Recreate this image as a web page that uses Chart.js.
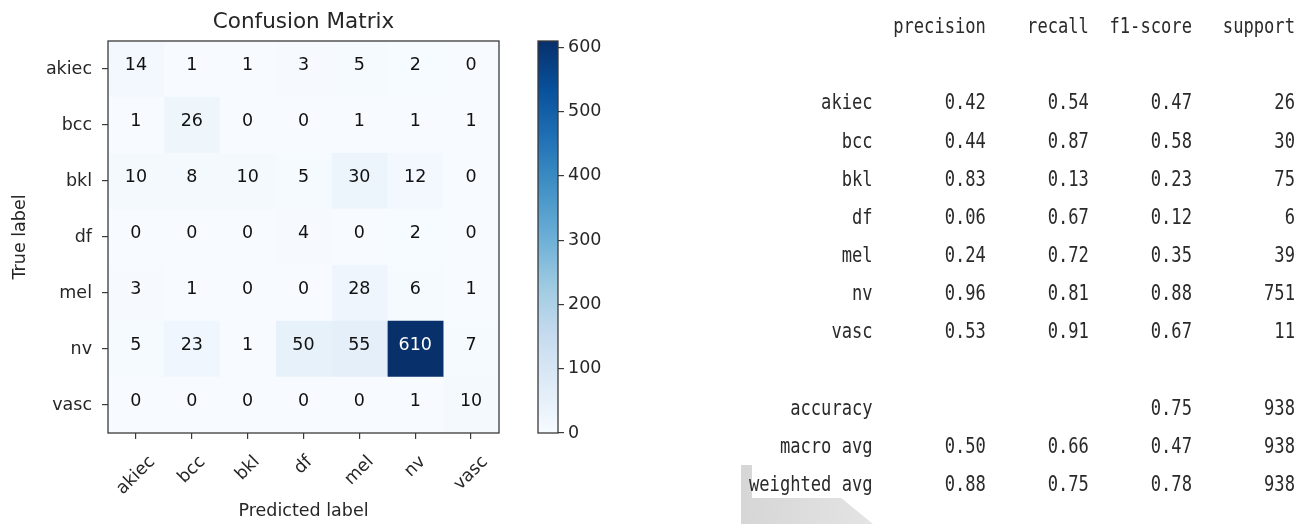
<!DOCTYPE html>
<html>
<head>
<meta charset="utf-8">
<script src="https://cdn.jsdelivr.net/npm/chart.js@4.4.0/dist/chart.umd.min.js"></script>
<style>
  html, body { margin: 0; padding: 0; background: #ffffff; }
  body { width: 1305px; height: 524px; position: relative; overflow: hidden; }
  canvas { position: absolute; top: 0; }
  #cm { left: 0; }
  #cb { left: 520px; }
  .soft { filter: blur(0.4px); }
  #mark { position: absolute; left: 741px; top: 465px; width: 132px; height: 59px;
          background: linear-gradient(90deg, #d6d6d6, #e4e4e4);
          clip-path: polygon(0 0, 60px 0, 132px 59px, 0 59px); }
  #markGap { position: absolute; left: 752px; top: 463px; width: 124px; height: 35px; background: #ffffff; }
  .line { position: absolute; left: 749.4px; white-space: pre; font-family: 'DejaVu Sans Mono', monospace;
          font-size: 20.5px; line-height: 24px; color: #2a2a2a; transform: scaleX(0.8346); transform-origin: 0 0; }
</style>
</head>
<body>
<canvas id="cm" class="soft" width="530" height="524"></canvas>
<canvas id="cb" class="soft" width="120" height="524"></canvas>
<div id="mark"></div>
<div id="markGap"></div>
<div id="report" class="soft"></div>
<script>
// Class names on both axes of the confusion matrix
const predLabels = ['akiec', 'bcc', 'bkl', 'df', 'mel', 'nv', 'vasc'];
const trueLabels = ['akiec', 'bcc', 'bkl', 'df', 'mel', 'nv', 'vasc'];

// Confusion matrix rows (true label), columns follow predLabels
const cmAkiec = [14, 1, 1, 3, 5, 2, 0];
const cmBcc   = [1, 26, 0, 0, 1, 1, 1];
const cmBkl   = [10, 8, 10, 5, 30, 12, 0];
const cmDf    = [0, 0, 0, 4, 0, 2, 0];
const cmMel   = [3, 1, 0, 0, 28, 6, 1];
const cmNv    = [5, 23, 1, 50, 55, 610, 7];
const cmVasc  = [0, 0, 0, 0, 0, 1, 10];
const confusion = [cmAkiec, cmBcc, cmBkl, cmDf, cmMel, cmNv, cmVasc];

// Colour bar tick labels
const colorbarTicks = [0, 100, 200, 300, 400, 500, 600];

// Classification report
const reportHeaders = ['precision', 'recall', 'f1-score', 'support'];
const reportClasses = ['akiec', 'bcc', 'bkl', 'df', 'mel', 'nv', 'vasc'];
const precision = [0.42, 0.44, 0.83, 0.06, 0.24, 0.96, 0.53];
const recall    = [0.54, 0.87, 0.13, 0.67, 0.72, 0.81, 0.91];
const f1Score   = [0.47, 0.58, 0.23, 0.12, 0.35, 0.88, 0.67];
const support   = [26, 30, 75, 6, 39, 751, 11];
const accuracy = 0.75;
const totalSupport = 938;
const macroAvg    = [0.50, 0.66, 0.47];
const weightedAvg = [0.88, 0.75, 0.78];

// ---- colour map (matplotlib "Blues") ----
const bluesStops = ['#f7fbff', '#deebf7', '#c6dbef', '#9ecae1', '#6baed6', '#4292c6', '#2171b5', '#08519c', '#08306b'];
function hexRgb(h) { return [1, 3, 5].map(k => parseInt(h.substr(k, 2), 16)); }
function blues(t) {
  t = Math.max(0, Math.min(1, t));
  const n = bluesStops.length;
  const pos = t * (n - 1);
  const k = Math.min(Math.floor(pos), n - 2);
  const f = pos - k;
  const a = hexRgb(bluesStops[k]), b = hexRgb(bluesStops[k + 1]);
  const c = a.map((v, i) => Math.round(v + (b[i] - v) * f));
  return `rgb(${c[0]},${c[1]},${c[2]})`;
}

const vmin = 0;
const vmax = Math.max(...confusion.flat());
const FONT = 'DejaVu Sans';
const INK = '#262626';
const SPINE = '#3a3a3a';
const tickFont = { family: FONT, size: 17.5 };

// cell annotations
const cellValues = {
  id: 'cellValues',
  afterDatasetsDraw(chart) {
    const { ctx, scales: { x, y } } = chart;
    ctx.save();
    ctx.font = `17.5px '${FONT}'`;
    ctx.textAlign = 'center';
    ctx.textBaseline = 'middle';
    confusion.forEach((row, i) => {
      row.forEach((v, j) => {
        ctx.fillStyle = v > vmax / 2 ? '#ffffff' : '#111111';
        ctx.fillText(String(v), x.getPixelForValue(j), y.getPixelForValue(i) - 3.5);
      });
    });
    ctx.restore();
  }
};

// four-sided frame around the plotting area
const frame = {
  id: 'frame',
  afterDraw(chart) {
    const { ctx, chartArea: a } = chart;
    ctx.save();
    ctx.strokeStyle = SPINE;
    ctx.lineWidth = 1.3;
    ctx.strokeRect(a.left, a.top, a.right - a.left, a.bottom - a.top);
    ctx.restore();
  }
};

// rotated predicted-class labels, centred under their tick
const xLabels = {
  id: 'xLabels',
  afterDraw(chart) {
    const { ctx, scales: { x }, chartArea } = chart;
    const size = 17.5;
    ctx.save();
    ctx.font = `${size}px '${FONT}'`;
    ctx.fillStyle = INK;
    ctx.textAlign = 'center';
    ctx.textBaseline = 'middle';
    const top = chartArea.bottom + 20;
    predLabels.forEach((lab, j) => {
      const w = ctx.measureText(lab).width;
      const half = (w + size) * Math.SQRT1_2 / 2;
      ctx.save();
      ctx.translate(x.getPixelForValue(j), top + half);
      ctx.rotate(-Math.PI / 4);
      ctx.fillText(lab, 0, 0);
      ctx.restore();
    });
    ctx.restore();
  }
};

new Chart(document.getElementById('cm'), {
  type: 'bar',
  data: {
    labels: trueLabels,
    datasets: predLabels.map((name, j) => ({
      label: name,
      data: trueLabels.map(() => [j - 0.5, j + 0.5]),
      backgroundColor: (c) => blues((confusion[c.dataIndex][j] - vmin) / (vmax - vmin)),
      borderWidth: 0,
      grouped: false,
      barPercentage: 1,
      categoryPercentage: 1
    }))
  },
  options: {
    indexAxis: 'y',
    responsive: false,
    animation: false,
    events: [],
    layout: { padding: { left: 0, right: 31, top: 0, bottom: 0 } },
    plugins: {
      legend: { display: false },
      tooltip: { enabled: false },
      title: {
        display: true, text: 'Confusion Matrix', fullSize: false,
        font: { family: FONT, size: 21.5, weight: 'normal' }, color: INK,
        padding: { top: 10, bottom: 5.2 }
      }
    },
    scales: {
      x: {
        type: 'linear', min: -0.5, max: predLabels.length - 0.5,
        afterBuildTicks(s) { s.ticks = predLabels.map((_, j) => ({ value: j })); },
        ticks: { display: false },
        grid: { drawOnChartArea: false, drawTicks: true, tickLength: 6, color: SPINE, lineWidth: 1.2 },
        border: { display: false },
        title: { display: true, text: 'Predicted label', font: tickFont, color: INK, padding: { top: 0, bottom: 2.5 } },
        afterFit(s) { s.height = 91; }
      },
      y: {
        type: 'category', offset: true,
        grid: { offset: false, drawOnChartArea: false, drawTicks: true, tickLength: 6, color: SPINE, lineWidth: 1.2 },
        border: { display: false },
        ticks: { font: tickFont, color: INK, padding: 10 },
        title: { display: true, text: 'True label', font: tickFont, color: INK, padding: { top: 9.5, bottom: 0 } },
        afterFit(s) { s.width = 108; }
      }
    }
  },
  plugins: [cellValues, frame, xLabels]
});

// colour bar
const outline = {
  id: 'outline',
  afterDraw(chart) {
    const { ctx, chartArea: a } = chart;
    ctx.save();
    ctx.strokeStyle = SPINE;
    ctx.lineWidth = 1.3;
    ctx.strokeRect(a.left, a.top, a.right - a.left, a.bottom - a.top);
    ctx.restore();
  }
};

new Chart(document.getElementById('cb'), {
  type: 'bar',
  data: {
    labels: [''],
    datasets: [{
      data: [[vmin, vmax]],
      backgroundColor: (c) => {
        const a = c.chart.chartArea;
        if (!a) return bluesStops[0];
        const g = c.chart.ctx.createLinearGradient(0, a.bottom, 0, a.top);
        bluesStops.forEach((col, k) => g.addColorStop(k / (bluesStops.length - 1), col));
        return g;
      },
      borderWidth: 0,
      barPercentage: 1,
      categoryPercentage: 1
    }]
  },
  options: {
    responsive: false,
    animation: false,
    events: [],
    layout: { padding: { left: 18, top: 41, bottom: 91, right: 0 } },
    plugins: { legend: { display: false }, tooltip: { enabled: false } },
    scales: {
      x: { display: false },
      y: {
        position: 'right', min: vmin, max: vmax,
        afterBuildTicks(s) { s.ticks = colorbarTicks.map(v => ({ value: v })); },
        grid: { drawOnChartArea: false, drawTicks: true, tickLength: 6, color: SPINE, lineWidth: 1.2 },
        border: { display: false },
        ticks: { font: tickFont, color: INK, padding: 4 },
        afterFit(s) { s.width = 82; }
      }
    }
  },
  plugins: [outline]
});

// ---- classification report text ----
const labelWidth = 12;
const col = (s) => ' ' + String(s).padStart(9);
const lines = [];
lines.push(' '.repeat(labelWidth) + ' ' + reportHeaders.map(col).join(''));
lines.push('');
reportClasses.forEach((name, i) => {
  lines.push(name.padStart(labelWidth) + ' ' +
    [precision[i], recall[i], f1Score[i]].map(v => col(v.toFixed(2))).join('') + ' ' + String(support[i]).padStart(9));
});
lines.push('');
lines.push('accuracy'.padStart(labelWidth) + ' ' + col('') + col('') + col(accuracy.toFixed(2)) + ' ' + String(totalSupport).padStart(9));
lines.push('macro avg'.padStart(labelWidth) + ' ' + macroAvg.map(v => col(v.toFixed(2))).join('') + ' ' + String(totalSupport).padStart(9));
lines.push('weighted avg'.padStart(labelWidth) + ' ' + weightedAvg.map(v => col(v.toFixed(2))).join('') + ' ' + String(totalSupport).padStart(9));

const report = document.getElementById('report');
lines.forEach((text, k) => {
  if (!text) return;
  const d = document.createElement('div');
  d.className = 'line';
  d.textContent = text;
  d.style.top = (25.7 + 38.15 * k - 11.6) + 'px';
  report.appendChild(d);
});
</script>
</body>
</html>
